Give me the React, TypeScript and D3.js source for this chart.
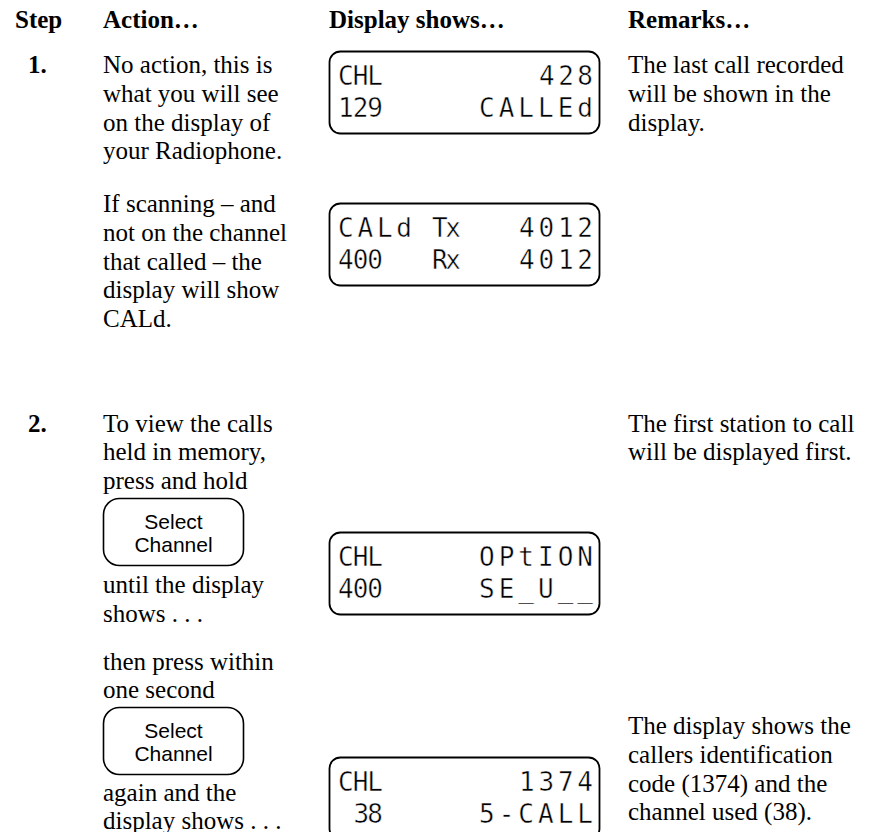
import React, { useRef, useEffect } from 'react';
import * as d3 from 'd3';

// Column headings and step numbers
const headers = ['Step', 'Action…', 'Display shows…', 'Remarks…'];
const stepLabels = ['1.', '2.'];

// Action column text blocks
const action1a = ['No action, this is', 'what you will see', 'on the display of', 'your Radiophone.'];
const action1b = ['If scanning – and', 'not on the channel', 'that called – the', 'display will show', 'CALd.'];
const action2a = ['To view the calls', 'held in memory,', 'press and hold'];
const action2b = ['until the display', 'shows . . .'];
const action2c = ['then press within', 'one second'];
const action2d = ['again and the', 'display shows . . .'];
const buttonLabel = ['Select', 'Channel'];

// Remarks column text blocks
const remarks1 = ['The last call recorded', 'will be shown in the', 'display.'];
const remarks2 = ['The first station to call', 'will be displayed first.'];
const remarks3 = ['The display shows the', 'callers identification', 'code (1374) and the', 'channel used (38).'];

// LCD screens: [left, middle, right] per row
const lcd1 = [['CHL', '', '428'], ['129', '', 'CALLEd']];
const lcd2 = [['CALd', 'Tx', '4012'], ['400', 'Rx', '4012']];
const lcd3 = [['CHL', '', 'OPtION'], ['400', '', 'SE_U__']];
const lcd4 = [['CHL', '', '1374'], [' 38', '', '5-CALL']];

const W = 875;
const H = 840;
const LINE = 28.75;

const App = () => {
  const svgRef = useRef<SVGSVGElement>(null);

  useEffect(() => {
    const svg = d3.select(svgRef.current);
    svg.selectAll('*').remove();

    const serif = '"Liberation Serif", "Times New Roman", serif';
    const sans = '"Liberation Sans", Arial, sans-serif';
    const mono = '"DejaVu Sans Mono", monospace';

    const colX = [15, 103, 329, 628];

    // header row
    svg.selectAll('text.head')
      .data(headers)
      .enter()
      .append('text')
      .attr('class', 'head')
      .attr('x', (d, i) => colX[i])
      .attr('y', 28)
      .attr('font-family', serif)
      .attr('font-weight', 'bold')
      .attr('font-size', 25)
      .text(d => d);

    // a paragraph of lines starting at baseline y0
    const lines = (arr: string[], x: number, y0: number) => {
      const y = d3.scaleLinear().domain([0, 1]).range([y0, y0 + LINE]);
      svg.append('g')
        .selectAll('text')
        .data(arr)
        .enter()
        .append('text')
        .attr('x', x)
        .attr('y', (d, i) => y(i))
        .attr('font-family', serif)
        .attr('font-size', 25)
        .text(d => d);
    };

    // step numbers
    svg.selectAll('text.step')
      .data(stepLabels)
      .enter()
      .append('text')
      .attr('class', 'step')
      .attr('x', 28)
      .attr('y', (d, i) => [73, 431.5][i])
      .attr('font-family', serif)
      .attr('font-weight', 'bold')
      .attr('font-size', 25)
      .text(d => d);

    lines(action1a, colX[1], 73);
    lines(action1b, colX[1], 212);
    lines(action2a, colX[1], 431.5);
    lines(action2b, colX[1], 593);
    lines(action2c, colX[1], 669.5);
    lines(action2d, colX[1], 800.5);

    lines(remarks1, colX[3], 73);
    lines(remarks2, colX[3], 431.5);
    lines(remarks3, colX[3], 734);

    // Select Channel buttons
    const button = (top: number) => {
      const g = svg.append('g');
      g.append('rect')
        .attr('x', 103.5)
        .attr('y', top + 0.5)
        .attr('width', 140)
        .attr('height', 67)
        .attr('rx', 16)
        .attr('fill', 'none')
        .attr('stroke', '#000')
        .attr('stroke-width', 1.6);
      g.selectAll('text')
        .data(buttonLabel)
        .enter()
        .append('text')
        .attr('x', 173.5)
        .attr('y', (d, i) => top + 31 + i * 23)
        .attr('text-anchor', 'middle')
        .attr('font-family', sans)
        .attr('font-size', 21)
        .text(d => d);
    };
    button(498);
    button(707);

    // LCD displays
    const lcd = (rows: string[][], top: number) => {
      const g = svg.append('g');
      g.append('rect')
        .attr('x', 329.5)
        .attr('y', top + 0.5)
        .attr('width', 270)
        .attr('height', 82)
        .attr('rx', 11)
        .attr('fill', 'none')
        .attr('stroke', '#000')
        .attr('stroke-width', 1.8);
      const rowY = [34, 66];
      rows.forEach((row, r) => {
        const y = top + rowY[r];
        const [left, mid, right] = row;
        const put = (t: string, x0: number, pitch: number) => {
          const txt = t.trimStart();
          const offs = (t.length - txt.length) * pitch;
          g.append('text')
            .attr('x', x0 + offs)
            .attr('y', y)
            .attr('font-family', mono)
            .attr('font-size', 26)
            .attr('textLength', (txt.length - 1) * pitch + 14)
            .attr('lengthAdjust', 'spacing')
            // slight white outline thins the strokes toward an LCD look
            .attr('stroke', '#fff')
            .attr('stroke-width', 0.45)
            .text(txt);
        };
        if (left) put(left, 338, left.trim().length > 3 ? 20 : 15.5);
        if (mid) put(mid, 432, 15);
        if (right) {
          const pitch = 20;
          put(right, 591 - ((right.length - 1) * pitch + 12), pitch);
        }
      });
    };
    lcd(lcd1, 51);
    lcd(lcd2, 203);
    lcd(lcd3, 532);
    lcd(lcd4, 757);
  }, []);

  return <svg ref={svgRef} width={W} height={H} style={{ display: 'block', margin: '-8px' }} />;
};

export default App;
